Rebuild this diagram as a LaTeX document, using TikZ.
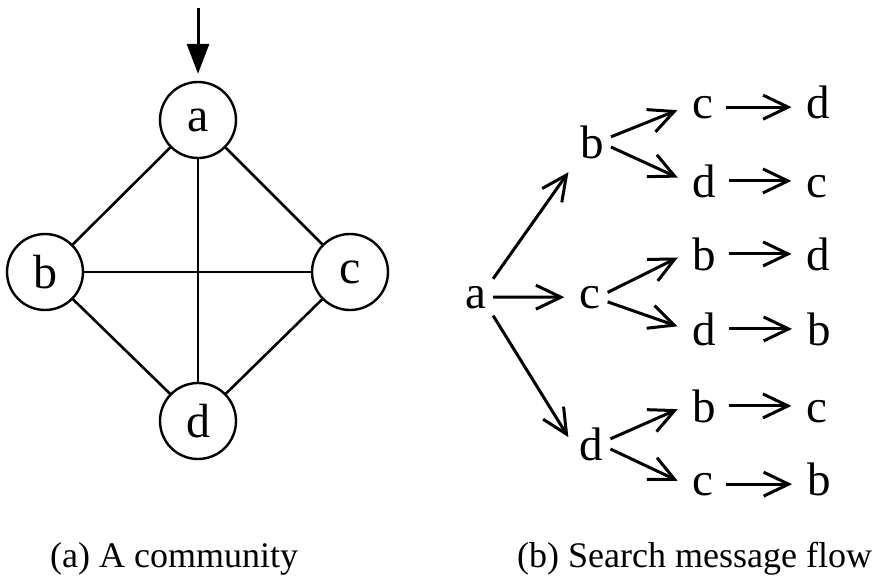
\documentclass[tikz,border=0pt]{standalone}
\usepackage{fontspec}
\setmainfont{Liberation Serif}
\usetikzlibrary{arrows.meta,calc}
\begin{document}
\begin{tikzpicture}[x=1pt,y=-1pt,
  vert/.style={circle,draw,line width=2.4pt,minimum size=76pt,inner sep=0pt,font=\fontsize{48}{48}\selectfont},
  edge/.style={line width=2.6pt},
  lbl/.style={inner sep=7pt,font=\fontsize{47}{47}\selectfont,anchor=base},
  flow/.style={line width=3pt,-{Straight Barb[length=25pt,width=24pt]},shorten >=8pt},
  captxt/.style={font=\fontsize{36}{36}\selectfont,inner sep=0pt}]
\useasboundingbox (0,0) rectangle (890,583);
% (a) community graph
\node[vert] (a) at (198,120) {a};
\node[vert] (b) at (45,272) {b};
\node[vert] (c) at (350,272) {c};
\node[vert] (d) at (198,421) {d};
\coordinate (in) at (198,8);
\draw[line width=3pt,-{Triangle[length=30pt,width=22pt]},shorten >=7pt] (in) -- (a.north);
\draw[edge] (a) -- (b);
\draw[edge] (a) -- (c);
\draw[edge] (a) -- (d);
\draw[edge] (b) -- (c);
\draw[edge] (b) -- (d);
\draw[edge] (c) -- (d);
% (b) search message flow
\node[lbl] (a0) at (475.5,308) {a};
\node[lbl] (b1) at (592,158) {b};
\node[lbl] (c1) at (590,308) {c};
\node[lbl] (d1) at (591.5,460) {d};
\node[lbl] (r1a) at (702.5,118) {c};
\node[lbl] (r1b) at (818.5,118) {d};
\node[lbl] (r2a) at (704,197) {d};
\node[lbl] (r2b) at (817,197) {c};
\node[lbl] (r3a) at (704,270) {b};
\node[lbl] (r3b) at (818.5,270) {d};
\node[lbl] (r4a) at (704,345) {d};
\node[lbl] (r4b) at (819,345) {b};
\node[lbl] (r5a) at (704,422) {b};
\node[lbl] (r5b) at (817,422) {c};
\node[lbl] (r6a) at (702.5,495) {c};
\node[lbl] (r6b) at (819,495) {b};
\draw[flow] (a0.north east) -- (b1.south west);
\draw[flow] (a0.east) -- (c1.west);
\draw[flow] (a0.south east) -- (d1.west);
\draw[flow] (b1.15) -- (r1a.west);
\draw[flow] (b1.-15) -- (r2a.west);
\draw[flow] (c1.15) -- (r3a.west);
\draw[flow] (c1.-15) -- (r4a.west);
\draw[flow] (d1.15) -- (r5a.west);
\draw[flow] (d1.-15) -- (r6a.west);
\foreach \r in {1,...,6}{
  \draw[flow,shorten <=6pt] (r\r a.east) -- (r\r a.east -| r\r b.west);
}
% captions
\node[captxt,anchor=base west] (capa) at (50,567) {(a) A community};
\node[captxt,anchor=base west] (capb) at (517,567) {(b) Search message flow};
\end{tikzpicture}
\end{document}
